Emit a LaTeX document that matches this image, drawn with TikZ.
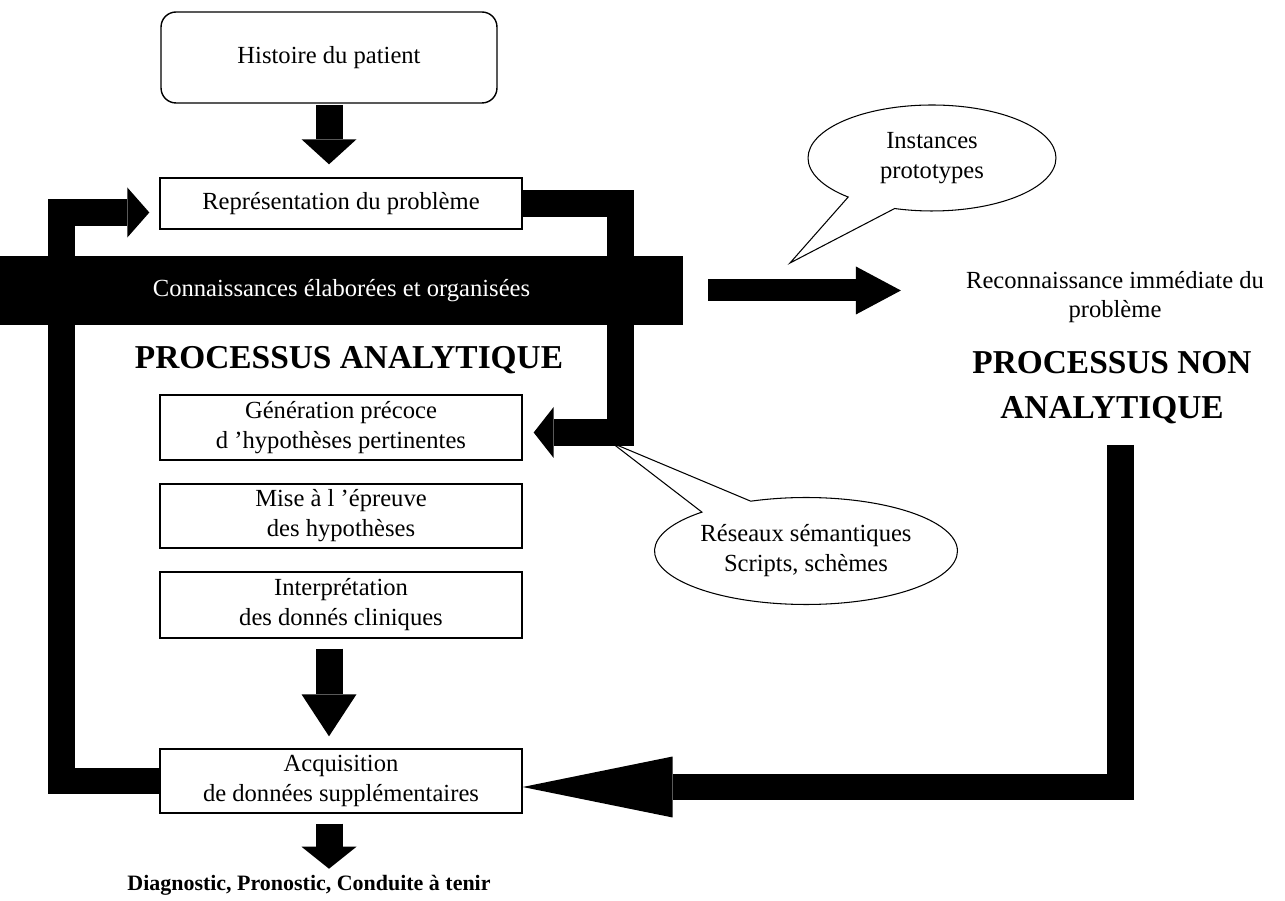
\documentclass[tikz,border=0pt]{standalone}
\usepackage{fontspec}
\setmainfont{Liberation Serif}
\usetikzlibrary{positioning,arrows.meta,shapes.callouts}

\newcommand{\boxfont}{\fontsize{14}{17}\selectfont}
\newcommand{\titlefont}{\fontsize{19}{25.6}\selectfont\bfseries}

\begin{document}
\begin{tikzpicture}[x=0.02cm,y=-0.02cm,
  box/.style={draw,line width=0.8pt,minimum width=7.24cm,align=center,font=\boxfont,inner sep=0pt},
  fat/.style={line width=0.54cm},
  bubble/.style={ellipse callout,draw,line width=0.6pt,align=center,font=\boxfont,inner sep=0pt}]
  \useasboundingbox (0,0) rectangle (1285,901);

  % analytic column
  \node[box,rounded corners=0.3cm,minimum width=6.72cm,minimum height=1.82cm] (hist) at (329,57.5) {Histoire du patient};
  \node[box,minimum height=1.02cm] (repr) at (341,203.5) {Représentation du problème};
  \node[fill=black,text=white,minimum width=13.66cm,minimum height=1.38cm,inner sep=0pt,font=\boxfont] (conn) at (341.5,290.5) {Connaissances élaborées et organisées};
  \node[font=\titlefont] (analytic) at (349,360) {PROCESSUS ANALYTIQUE};
  \node[box,minimum height=1.3cm] (gen) at (341,427.5) {Génération précoce\\d ’hypothèses pertinentes};
  \node[box,minimum height=1.28cm] (mise) at (341,516) {Mise à l ’épreuve\\des hypothèses};
  \node[box,minimum height=1.32cm] (interp) at (341,605) {Interprétation\\des donnés cliniques};
  \node[box,minimum height=1.28cm] (acq) at (341,781) {Acquisition\\de données supplémentaires};
  \node[font=\fontsize{12.5}{15}\selectfont\bfseries] (diag) at (309,885) {Diagnostic, Pronostic, Conduite à tenir};

  % non analytic side
  \node[align=center,font=\fontsize{14}{16.5}\selectfont] (reco) at (1115,297) {Reconnaissance immédiate du\\problème};
  \node[align=center,font=\titlefont] (nonanal) at (1112,388) {PROCESSUS NON\\ANALYTIQUE};

  % bubbles
  \node[bubble,minimum width=4.96cm,minimum height=2.12cm,callout absolute pointer={(790,263)},callout pointer arc=25] (inst) at (932,158) {Instances\\prototypes};
  \node[bubble,minimum width=6.06cm,minimum height=2.14cm,callout absolute pointer={(612,443)},callout pointer arc=22] (res) at (806,551) {Réseaux sémantiques\\Scripts, schèmes};

  % fat arrows
  \coordinate (loopL) at (61.5,212.5);
  \coordinate (loopR) at (620,205);
  \coordinate (nabar) at (1120,445);
  \draw[fat,-{Triangle[length=0.5cm,width=1.1cm,line width=0pt]},shorten <=1pt,shorten >=0.26cm] (hist.south) -- (hist.south |- repr.north);
  \draw[fat,-{Triangle[length=0.44cm,width=1.0cm,line width=0pt]},shorten >=0.2cm] (acq.west) -| (loopL) -- (loopL -| repr.west);
  \draw[fat,-{Triangle[length=0.4cm,width=1.02cm,line width=0pt]},shorten >=0.22cm] (repr.east) -- (repr.east -| loopR) |- ([yshift=-0.1cm]gen.east);
  \draw[line width=0.44cm,-{Triangle[length=0.9cm,width=0.96cm,line width=0pt]},shorten <=0.5cm,shorten >=1.18cm] (conn.east) -- (conn.east -| reco.west);
  \draw[fat,-{Triangle[length=0.84cm,width=1.1cm,line width=0pt]},shorten <=0.2cm,shorten >=0.24cm] ([xshift=-0.24cm]interp.south) -- ([xshift=-0.24cm]acq.north);
  \draw[fat,-{Triangle[length=0.44cm,width=1.1cm,line width=0pt]},shorten <=0.2cm] ([xshift=-0.24cm]acq.south) -- ([xshift=-0.24cm]acq.south |- diag.north);
  \draw[fat,-{Triangle[length=3cm,width=1.22cm,line width=0pt]}] (nabar) |- ([yshift=-0.12cm]acq.east);
\end{tikzpicture}
\end{document}
